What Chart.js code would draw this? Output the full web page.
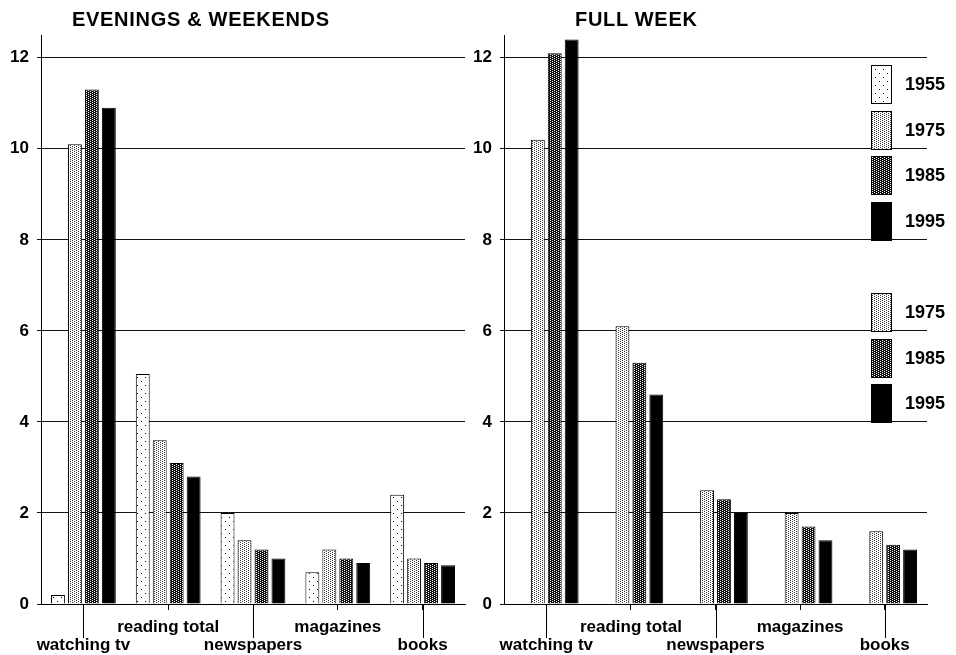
<!DOCTYPE html>
<html>
<head>
<meta charset="utf-8">
<script src="https://cdn.jsdelivr.net/npm/chart.js@4.4.0/dist/chart.umd.min.js"></script>
<style>
  html, body { margin: 0; padding: 0; background: #fff; }
  #page { position: relative; width: 956px; height: 655px; overflow: hidden; }
  .panel { position: absolute; top: 0; height: 655px; }
  .title { position: absolute; top: 8px; font: bold 20px "Liberation Sans", Arial, sans-serif; letter-spacing: 0.7px; color: #000; white-space: nowrap; }
</style>
</head>
<body>
<div id="page">
  <div class="panel" style="left:0;width:470px"><canvas id="left" width="470" height="655"></canvas></div>
  <div class="panel" style="left:470px;width:486px"><canvas id="right" width="486" height="655"></canvas></div>
  <div class="title" style="left:72px">EVENINGS &amp; WEEKENDS</div>
  <div class="title" style="left:575px">FULL WEEK</div>
</div>
<script>
const categories = ["watching tv", "reading total", "newspapers", "magazines", "books"];
const years = ["1955", "1975", "1985", "1995"];
const yTicks = [0, 2, 4, 6, 8, 10, 12];

// hours per week, evenings & weekends
const evenings1955 = [0.2, 5.05, 2.0, 0.7, 2.4];
const evenings1975 = [10.1, 3.6, 1.4, 1.2, 1.0];
const evenings1985 = [11.3, 3.1, 1.2, 1.0, 0.9];
const evenings1995 = [10.9, 2.8, 1.0, 0.9, 0.85];

// hours per week, full week (no 1955 survey)
const fullWeek1955 = [null, null, null, null, null];
const fullWeek1975 = [10.2, 6.1, 2.5, 2.0, 1.6];
const fullWeek1985 = [12.1, 5.3, 2.3, 1.7, 1.3];
const fullWeek1995 = [12.4, 4.6, 2.0, 1.4, 1.2];

const legendBlocks = [["1955", "1975", "1985", "1995"], ["1975", "1985", "1995"]];

const FONT = "'Liberation Sans', Arial, sans-serif";

function makePattern(size, bg, fg, dots) {
    const c = document.createElement("canvas");
    c.width = size;
    c.height = size;
    const g = c.getContext("2d");
    g.fillStyle = bg;
    g.fillRect(0, 0, size, size);
    g.fillStyle = fg;
    dots.forEach(([x, y]) => g.fillRect(x, y, 1, 1));
    return g.createPattern(c, "repeat");
}

const fills = {
    "1955": makePattern(8, "#fff", "#000", [[1, 1], [5, 5]]),
    "1975": makePattern(4, "#fff", "#333", [[0, 0], [2, 1], [0, 2], [2, 3]]),
    "1985": makePattern(4, "#111", "#fff", [[0, 0], [2, 1], [0, 2], [2, 3]]),
    "1995": "#000",
};

const xLabels = categories.map((c, i) => (i % 2 === 0 ? ["", c] : c));

const longTicks = {
    id: "longTicks",
    afterDraw(chart) {
        const xs = chart.scales.x;
        const ctx = chart.ctx;
        ctx.save();
        ctx.strokeStyle = "#000";
        ctx.lineWidth = 1;
        categories.forEach((c, i) => {
            if (i % 2) return;
            const px = Math.round(xs.getPixelForTick(i)) + 0.5;
            ctx.beginPath();
            ctx.moveTo(px, xs.top);
            ctx.lineTo(px, xs.top + 34);
            ctx.stroke();
        });
        ctx.restore();
    },
};

const blockLegend = {
    id: "blockLegend",
    afterDatasetsDraw(chart) {
        const ctx = chart.ctx;
        const area = chart.chartArea;
        const x = area.right - 56;
        const blockTops = [30, 258];
        ctx.save();
        ctx.font = `bold 18px ${FONT}`;
        ctx.textBaseline = "middle";
        ctx.strokeStyle = "#000";
        ctx.lineWidth = 1;
        legendBlocks.forEach((block, b) => {
            block.forEach((year, i) => {
                const y = Math.round(area.top + blockTops[b] + i * 45.5);
                ctx.fillStyle = fills[year];
                ctx.fillRect(x, y, 21, 39);
                ctx.strokeRect(x + 0.5, y + 0.5, 20, 38);
                ctx.fillStyle = "#000";
                ctx.fillText(year, x + 34, y + 20);
            });
        });
        ctx.restore();
    },
};

function makeChart(id, series, yWidth, padRight, extraPlugins) {
    const datasets = years.map((year, i) => ({
        label: year,
        data: series[i],
        backgroundColor: fills[year],
        borderColor: "#000",
        borderWidth: 1,
        categoryPercentage: 0.8,
        barPercentage: 0.82,
    }));

    return new Chart(document.getElementById(id).getContext("2d"), {
        type: "bar",
        data: { labels: xLabels, datasets: datasets },
        options: {
            responsive: false,
            animation: false,
            layout: { padding: { top: 35, right: padRight, bottom: 0, left: 0 } },
            plugins: {
                legend: { display: false },
                tooltip: { enabled: false },
            },
            scales: {
                x: {
                    grid: {
                        offset: false,
                        drawOnChartArea: false,
                        drawTicks: true,
                        tickLength: 6,
                        color: "#000",
                    },
                    border: { color: "#000", width: 1 },
                    ticks: {
                        color: "#000",
                        autoSkip: false,
                        maxRotation: 0,
                        padding: 8,
                        font: { family: FONT, size: 17, weight: "bold", lineHeight: 1.06 },
                    },
                    afterFit: (s) => { s.height = 51; },
                },
                y: {
                    min: 0,
                    max: 12.5,
                    afterBuildTicks: (s) => { s.ticks = yTicks.map((v) => ({ value: v })); },
                    grid: { color: "#111", lineWidth: 1, drawTicks: true, tickLength: 4 },
                    border: { color: "#000", width: 1 },
                    ticks: {
                        color: "#000",
                        padding: 8,
                        font: { family: FONT, size: 17, weight: "bold" },
                    },
                    afterFit: (s) => { s.width = yWidth; },
                },
            },
        },
        plugins: [longTicks].concat(extraPlugins),
    });
}

makeChart("left", [evenings1955, evenings1975, evenings1985, evenings1995], 41, 5, []);
makeChart("right", [fullWeek1955, fullWeek1975, fullWeek1985, fullWeek1995], 34, 29, [blockLegend]);
</script>
</body>
</html>
